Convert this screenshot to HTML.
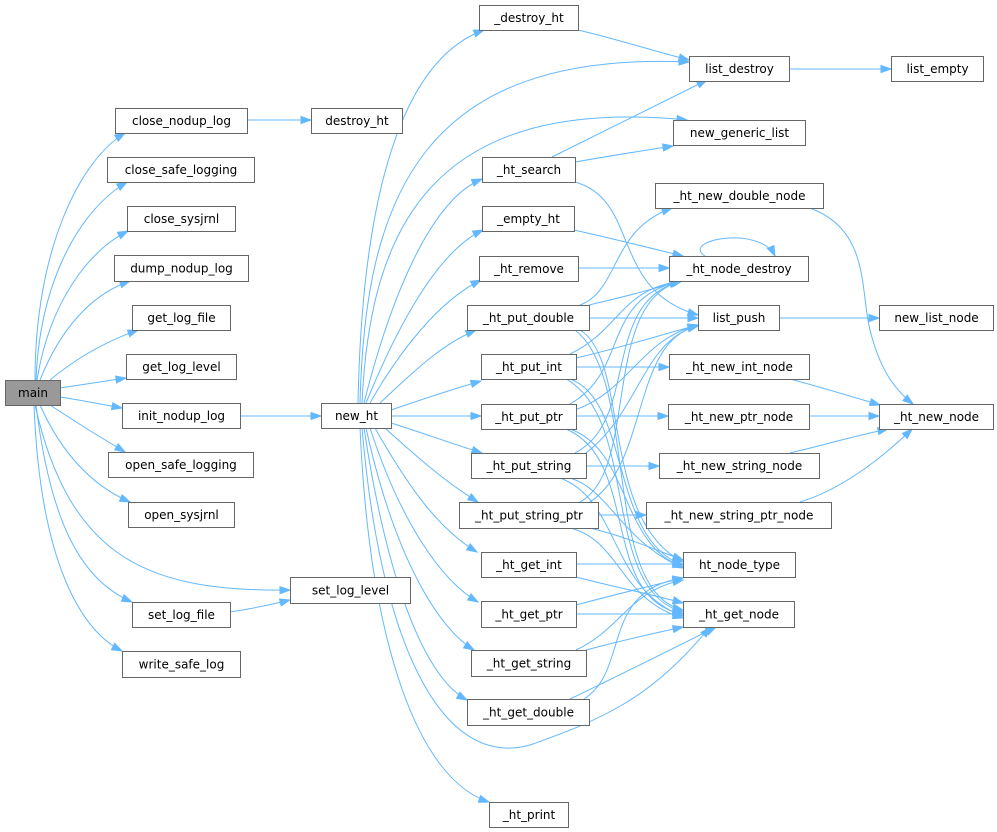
<!DOCTYPE html>
<html><head><meta charset="utf-8"><style>
html,body{margin:0;padding:0;background:#fff;}
svg{display:block;}
text{font-family:"DejaVu Sans","Liberation Sans",sans-serif;font-size:12px;fill:#000;}
</style></head><body>
<svg id="s" width="997" height="832" xmlns="http://www.w3.org/2000/svg"><g id="e"></g><g id="n"></g></svg>
<script>
var nodes=[
["main",5,380,60,405,1],
["close_nodup_log",115,108,247,133],
["close_safe_logging",107,157,254,182],
["close_sysjrnl",127,206,235,231],
["dump_nodup_log",114,255,248,281],
["get_log_file",132,305,230,330],
["get_log_level",126,354,236,379],
["init_nodup_log",122,403,240,428],
["open_safe_logging",108,452,253,477],
["open_sysjrnl",128,502,234,527],
["set_log_file",132,602,230,627],
["write_safe_log",122,651,240,677],
["destroy_ht",311,108,402,133],
["new_ht",321,403,391,428],
["set_log_level",290,577,410,603],
["_destroy_ht",479,5,578,30],
["list_destroy",689,56,789,81],
["list_empty",891,56,983,81],
["new_generic_list",673,120,805,145],
["_ht_search",482,157,575,182],
["_ht_new_double_node",655,183,823,208],
["_empty_ht",482,206,574,231],
["_ht_remove",479,256,578,281],
["_ht_node_destroy",669,256,808,281],
["_ht_put_double",467,305,589,330],
["list_push",698,305,779,330],
["new_list_node",879,305,993,330],
["_ht_put_int",481,354,576,379],
["_ht_new_int_node",669,354,809,379],
["_ht_put_ptr",481,404,576,429],
["_ht_new_ptr_node",668,404,809,429],
["_ht_new_node",879,404,993,429],
["_ht_put_string",471,453,586,478],
["_ht_new_string_node",659,453,819,478],
["_ht_put_string_ptr",459,502,598,528],
["_ht_new_string_ptr_node",646,502,831,528],
["_ht_get_int",481,552,576,577],
["ht_node_type",683,552,795,577],
["_ht_get_ptr",481,601,576,627],
["_ht_get_node",683,601,794,627],
["_ht_get_string",471,650,586,676],
["_ht_get_double",467,699,589,725],
["_ht_print",489,802,568,827]
];
var E=[
"M35,380 C35,250 80,160 125,133",
"M36,380 C40,280 80,210 127,182",
"M37,380 C50,300 90,250 128,231",
"M40,380 C60,330 90,295 130,281",
"M50,380 C80,355 110,340 138,330",
"M60,388 C80,385 100,382 126,378",
"M60,397 C80,400 100,404 122,408",
"M50,405 C80,425 105,440 125,452",
"M40,405 C60,450 90,485 130,502",
"M35,405 C70,560 150,592 290,590",
"M36,405 C50,520 80,580 132,602",
"M34,405 C40,560 80,630 122,651",
"M247,120 C270,120 290,120 311,120",
"M240,416 C270,416 300,416 321,416",
"M230,612 C250,609 270,605 290,600",
"M358,403 C362,200 400,60 484,30",
"M360,403 C365,200 420,50 689,62",
"M362,403 C370,230 430,95 687,120",
"M364,403 C390,300 430,200 482,179",
"M366,403 C400,320 440,250 483,230",
"M370,403 C400,350 440,300 481,280",
"M380,403 C410,375 440,345 476,330",
"M391,410 C420,400 450,390 481,381",
"M391,416 C420,416 450,416 481,416",
"M391,423 C420,432 450,443 482,453",
"M385,428 C420,460 450,485 478,502",
"M375,428 C410,490 440,530 477,552",
"M370,428 C400,520 440,580 478,602",
"M366,428 C395,560 440,630 474,650",
"M364,428 C390,600 430,680 467,700",
"M362,428 C380,640 440,770 530,745 C600,720 650,700 710,627",
"M360,428 C370,650 420,780 489,802",
"M578,30 C620,40 650,50 689,60",
"M789,69 C820,69 860,69 891,69",
"M552,157 C600,133 650,108 707,80",
"M575,162 C610,156 640,151 673,146",
"M575,182 C640,200 610,290 698,315",
"M810,208 C870,230 860,290 870,330 C880,370 895,390 913,404",
"M574,230 C610,238 650,248 683,256",
"M705,256 C680,240 760,225 775,256",
"M578,268 C610,268 640,268 669,268",
"M580,305 C620,290 610,230 672,208",
"M589,305 C620,298 650,290 680,281",
"M589,318 C630,318 670,318 698,318",
"M779,318 C810,318 850,318 879,318",
"M570,354 C620,330 620,290 680,281",
"M576,358 C620,348 660,335 698,325",
"M576,367 C610,367 640,367 669,367",
"M790,379 C820,387 850,396 880,405",
"M570,404 C630,370 600,300 680,281",
"M575,410 C630,390 640,340 698,325",
"M576,416 C610,416 640,416 668,416",
"M809,416 C830,416 860,416 879,416",
"M575,453 C640,420 600,300 682,281",
"M576,460 C640,420 640,340 698,326",
"M586,466 C610,466 640,466 659,466",
"M790,453 C820,446 850,437 888,429",
"M580,502 C640,470 600,300 682,281",
"M585,505 C650,470 630,340 698,326",
"M598,515 C615,515 630,515 646,515",
"M800,502 C840,490 880,460 912,429",
"M580,330 C630,360 600,520 683,562",
"M575,330 C640,380 600,590 683,610",
"M570,379 C630,400 610,540 683,565",
"M566,379 C640,420 600,590 683,612",
"M570,429 C630,450 620,545 683,567",
"M566,429 C640,460 600,600 683,614",
"M570,478 C610,490 620,540 683,568",
"M560,478 C620,500 610,590 683,616",
"M590,528 C630,538 650,548 683,560",
"M570,528 C620,540 620,600 683,618",
"M576,564 C610,564 650,564 683,564",
"M576,577 C610,586 650,594 683,603",
"M576,605 C610,596 650,586 683,578",
"M576,614 C610,614 650,614 683,614",
"M576,650 C620,630 630,590 683,580",
"M586,650 C620,641 650,634 683,627",
"M570,699 C620,675 670,650 716,627",
"M584,699 C630,670 600,590 683,578"
];
var ns="http://www.w3.org/2000/svg",ge=document.getElementById("e"),gn=document.getElementById("n");
E.forEach(function(d){
 var p=document.createElementNS(ns,"path");p.setAttribute("d",d);p.setAttribute("fill","none");p.setAttribute("stroke","#63b8ff");p.setAttribute("stroke-width","1");ge.appendChild(p);
 var nums=d.match(/-?\d+(\.\d+)?/g).map(Number);var n=nums.length;
 var x2=nums[n-2],y2=nums[n-1],x1=nums[n-4],y1=nums[n-3];
 var dx=x2-x1,dy=y2-y1,L=Math.sqrt(dx*dx+dy*dy)||1;dx/=L;dy/=L;
 var bx=x2-dx*10,by=y2-dy*10,px=-dy*3.5,py=dx*3.5;
 var a=document.createElementNS(ns,"polygon");
 a.setAttribute("points",x2+","+y2+" "+(bx+px)+","+(by+py)+" "+(bx-px)+","+(by-py));
 a.setAttribute("fill","#63b8ff");a.setAttribute("stroke","#63b8ff");ge.appendChild(a);
});
nodes.forEach(function(o){
 var r=document.createElementNS(ns,"rect");
 r.setAttribute("x",o[1]+0.5);r.setAttribute("y",o[2]+0.5);r.setAttribute("width",o[3]-o[1]);r.setAttribute("height",o[4]-o[2]);
 r.setAttribute("fill",o[5]?"#999999":"#ffffff");r.setAttribute("stroke","#666666");gn.appendChild(r);
 var t=document.createElementNS(ns,"text");t.setAttribute("x",(o[1]+o[3])/2+0.5);t.setAttribute("y",(o[2]+o[4])/2+4.5);t.setAttribute("text-anchor","middle");t.textContent=o[0];gn.appendChild(t);
});
</script>
</body></html>
